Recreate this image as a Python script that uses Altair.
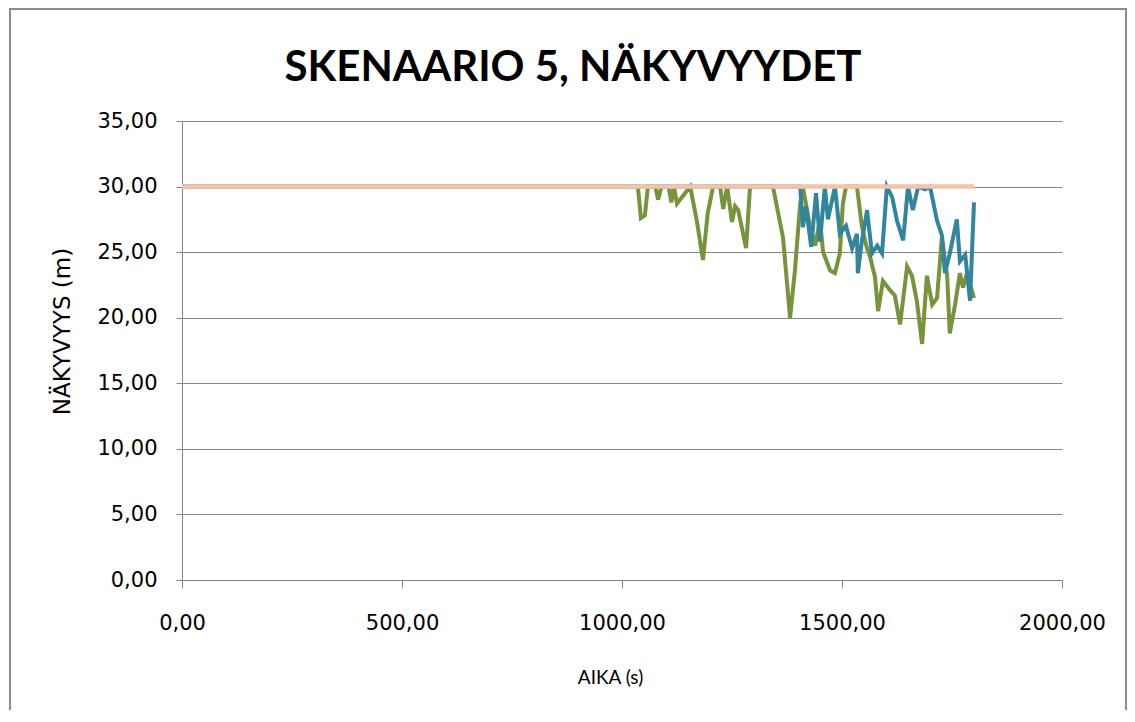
import altair as alt
import pandas as pd

TITLE = "SKENAARIO 5, NÄKYVYYDET"
X_TITLE = "AIKA (s)"
Y_TITLE = "NÄKYVYYS (m)"
X_TICKS = [0, 500, 1000, 1500, 2000]
Y_TICKS = [0, 5, 10, 15, 20, 25, 30, 35]

# reference line (salmon)
ref_t = [0, 1800]
ref_v = [30, 30]

# green series
green_t = [0, 1036, 1043, 1052, 1059, 1076, 1082, 1090, 1106, 1112, 1118, 1125, 1155,
           1170, 1184, 1195, 1207, 1223, 1230, 1239, 1250, 1257, 1264, 1282, 1291,
           1343, 1366, 1382, 1393, 1405, 1411, 1427, 1439, 1450, 1457, 1473, 1484,
           1495, 1502, 1509, 1534, 1545, 1555, 1564, 1575, 1582, 1593, 1609, 1620,
           1632, 1648, 1659, 1670, 1682, 1693, 1705, 1716, 1727, 1739, 1745, 1757,
           1768, 1775, 1784, 1800]
green_v = [30, 30, 27.6, 27.8, 30, 30, 29.0, 30, 30, 28.8, 30, 28.7, 30,
           27.4, 24.4, 28.0, 30, 30, 28.3, 30, 27.3, 28.5, 28.2, 25.3, 30,
           30, 26.1, 20.0, 23.6, 28.7, 30, 27.0, 25.5, 27.5, 25.0, 23.6, 23.4,
           24.9, 28.7, 30, 30, 27.0, 25.5, 24.6, 23.1, 20.5, 22.8, 22.1, 21.7,
           19.5, 23.9, 23.2, 21.3, 18.0, 23.2, 21.0, 21.5, 26.1, 23.2, 18.8, 21.0,
           23.4, 22.3, 23.4, 21.5]

# blue series
blue_t = [0, 1405, 1411, 1418, 1430, 1441, 1450, 1461, 1468, 1484, 1495, 1509, 1523,
          1534, 1536, 1545, 1557, 1568, 1580, 1591, 1602, 1614, 1625, 1639, 1650,
          1661, 1673, 1689, 1700, 1716, 1727, 1734, 1745, 1761, 1768, 1780, 1791, 1800]
blue_v = [30, 30, 26.9, 28.5, 25.4, 29.5, 25.8, 30, 27.5, 30, 26.4, 27.0, 25.3,
          26.4, 23.4, 25.8, 28.2, 24.9, 25.5, 24.9, 30, 29.2, 27.4, 25.9, 30,
          28.2, 30, 29.8, 30, 27.4, 26.3, 23.4, 24.9, 27.5, 24.3, 24.8, 21.3, 28.8]

GREEN = "#77933C"
BLUE = "#31859C"
SALMON = "#F2C4AC"
GRID = "#868686"

label_expr = "replace(format(datum.value, '.2f'), '.', ',')"

x_enc = alt.X(
    "t:Q",
    scale=alt.Scale(domain=[0, 2000], nice=False),
    axis=alt.Axis(
        values=X_TICKS, labelExpr=label_expr, grid=False, labelFlush=False,
        title=X_TITLE, titleFont="Lato", titleFontSize=19, titleFontWeight="normal",
        titleColor="#000000", titleX=428, titleY=97, titleBaseline="middle", titleAlign="center",
        labelFont="DejaVu Sans", labelFontSize=21, labelColor="#000000", labelPadding=24,
        tickSize=8, tickColor=GRID, domainColor=GRID, labelBaseline="top",
    ),
)
y_enc = alt.Y(
    "v:Q",
    scale=alt.Scale(domain=[0, 35], nice=False),
    axis=alt.Axis(
        values=Y_TICKS, labelExpr=label_expr, grid=True, gridColor=GRID, gridOpacity=1,
        title=Y_TITLE, titleFont="DejaVu Sans", titleFontSize=23, titleFontWeight="normal",
        titleColor="#000000", titleX=-120, titleY=210, titleBaseline="middle", titleAlign="center",
        titleAngle=270,
        labelFont="DejaVu Sans", labelFontSize=21, labelColor="#000000", labelPadding=19,
        tickSize=6, tickColor=GRID, domainColor=GRID,
    ),
)

green_df = pd.DataFrame({"t": green_t, "v": green_v})
blue_df = pd.DataFrame({"t": blue_t, "v": blue_v})
ref_df = pd.DataFrame({"t": ref_t, "v": ref_v})

green = alt.Chart(green_df).mark_line(color=GREEN, strokeWidth=4).encode(x=x_enc, y=y_enc)
blue = alt.Chart(blue_df).mark_line(color=BLUE, strokeWidth=4).encode(x="t:Q", y="v:Q")
ref = alt.Chart(ref_df).mark_line(color=SALMON, strokeWidth=4.5).encode(x="t:Q", y="v:Q")

frame_df = pd.DataFrame({"k": [0]})
border = alt.Chart(frame_df).mark_rect(filled=False, stroke="#8C8C8C", strokeWidth=2).encode(
    x=alt.value(-172), x2=alt.value(944), y=alt.value(-112), y2=alt.value(720)
)
title_df = pd.DataFrame({"label": [TITLE]})
title = alt.Chart(title_df).mark_text(
    font="Lato", fontSize=42, fontWeight="bold", color="#000000",
    align="center", baseline="middle"
).encode(x=alt.value(391), y=alt.value(-53), text="label:N")

chart = alt.layer(green, blue, ref, border, title).properties(
    width=880, height=459,
    padding={"left": 174, "top": 113, "right": 65, "bottom": 130},
    autosize=alt.AutoSizeParams(type="none"),
    background="#FFFFFF",
).configure_view(stroke=None)

chart.save("out.html", embed_options={"renderer": "svg", "actions": False})
